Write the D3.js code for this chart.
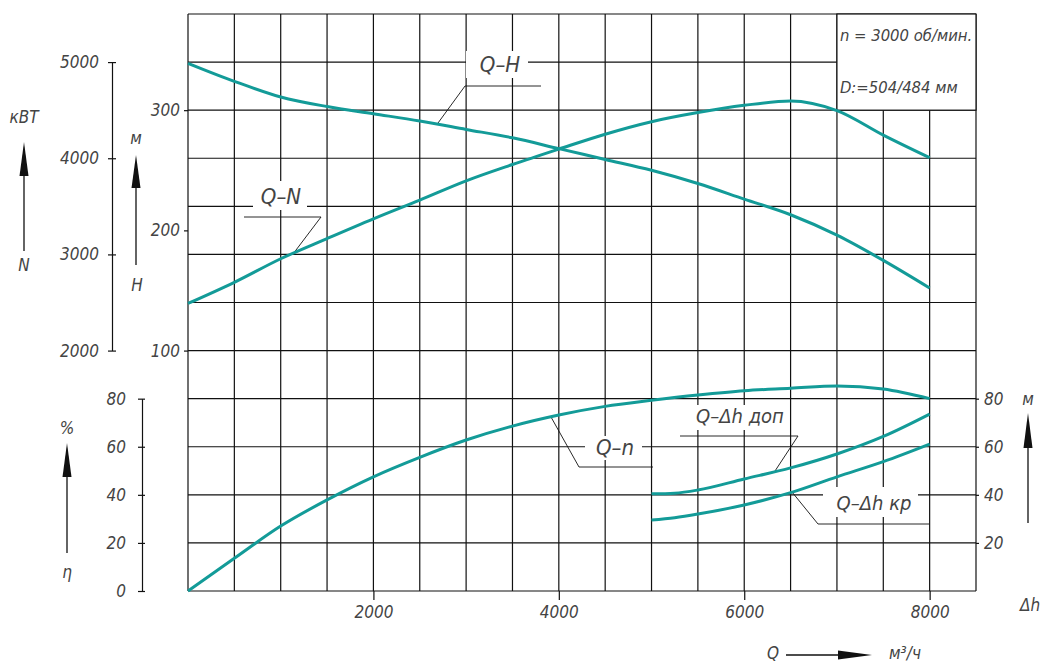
<html>
<head>
<meta charset="utf-8">
<style>
  body { margin: 0; background: #fff; }
  text { font-family: "DejaVu Sans Condensed", "DejaVu Sans", sans-serif; font-style: italic; fill: #444; }
</style>
</head>
<body>
<svg id="chart" width="1040" height="662"></svg>
<script src="https://cdn.jsdelivr.net/npm/d3@7/dist/d3.min.js"></script>
<script>
// flow Q, m3/h
const qMain = [0, 500, 1000, 1500, 2000, 2500, 3000, 3500, 4000, 4500, 5000, 5500, 6000, 6500, 7000, 7500, 8000]
const headH = [339, 324, 311, 303, 297, 291, 284, 277, 268, 259, 250, 239, 226, 213, 196, 175, 152]
const powerN = [2490, 2710, 2955, 3165, 3370, 3565, 3765, 3935, 4095, 4250, 4380, 4475, 4550, 4595, 4495, 4240, 4005]
const effEta = [0, 13.6, 27, 37.9, 47.5, 55.6, 62.8, 68.6, 73.2, 76.8, 79.3, 81.5, 83.3, 84.3, 85.3, 84.0, 80]

const qNpsh = [5000, 5250, 5500, 6000, 6500, 7000, 7500, 8000]
const dhDop = [40.4, 40.7, 42.0, 46.6, 51.2, 57.0, 64.3, 73.6]
const dhKr = [29.5, 30.5, 32.0, 35.8, 40.9, 47.5, 53.8, 61.1]

// tick labels
const qTicks = [2000, 4000, 6000, 8000]
const nTicks = [2000, 3000, 4000, 5000]
const hTicks = [100, 200, 300]
const etaTicks = [0, 20, 40, 60, 80]
const dhTicks = [20, 40, 60, 80]

const svg = d3.select("#chart")
const teal = "#139b98"
const fmt = d3.format("d")

let x = d3.scaleLinear().domain([0, 8500]).range([188, 976])
let row = d3.scaleLinear().domain([0, 12]).range([14, 591]) // grid rows
let yN = d3.scaleLinear().domain([2000, 5000]).range([row(7), row(1)])
let yH = d3.scaleLinear().domain([100, 300]).range([row(7), row(2)])
let yEta = d3.scaleLinear().domain([0, 80]).range([row(12), row(8)])
let yDh = d3.scaleLinear().domain([0, 80]).range([row(12), row(8)])

// grid
let grid = svg.append("g").attr("stroke", "#111").attr("stroke-width", 1.2)
grid.selectAll(".v").data(d3.range(0, 8501, 500)).enter().append("line")
    .attr("x1", d => x(d)).attr("x2", d => x(d))
    .attr("y1", row(0)).attr("y2", row(12))
grid.selectAll(".h").data(d3.range(0, 13)).enter().append("line")
    .attr("x1", x(0)).attr("x2", x(8500))
    .attr("y1", d => row(d)).attr("y2", d => row(d))

// info box top right
svg.append("rect").attr("x", x(7000)).attr("y", row(0))
    .attr("width", x(8500) - x(7000)).attr("height", row(2) - row(0))
    .attr("fill", "#fff").attr("stroke", "#111").attr("stroke-width", 1.2)
svg.append("text").attr("x", x(7000) + 3).attr("y", 41).attr("font-size", 16.5).text("n = 3000 об/мин.")
svg.append("text").attr("x", x(7000) + 3).attr("y", 93).attr("font-size", 16.5).text("D:=504/484 мм")

function styleAxis(g, size) {
    g.attr("font-size", null).attr("font-family", null)
    g.selectAll("text").attr("font-size", size).attr("fill", "#444")
    g.selectAll("line, path").attr("stroke", "#111").attr("stroke-width", 1.2)
}

// N axis
svg.append("g").attr("transform", "translate(112,0)")
    .call(d3.axisLeft(yN).tickValues(nTicks).tickFormat(fmt).tickSize(4).tickSizeOuter(0).tickPadding(9))
    .call(g => g.selectAll(".tick line").attr("x1", 4))
    .call(g => styleAxis(g, 17))
// H axis
svg.append("g").attr("transform", "translate(188,0)")
    .call(d3.axisLeft(yH).tickValues(hTicks).tickFormat(fmt).tickSize(4).tickSizeOuter(0).tickPadding(4))
    .call(g => g.select(".domain").remove())
    .call(g => styleAxis(g, 17))
// eta axis
svg.append("g").attr("transform", "translate(142,0)")
    .call(d3.axisLeft(yEta).tickValues(etaTicks).tickFormat(fmt).tickSize(4).tickSizeOuter(0).tickPadding(12))
    .call(g => g.selectAll(".tick line").attr("x1", 3))
    .call(g => styleAxis(g, 17))
// dh axis
svg.append("g").attr("transform", "translate(976,0)")
    .call(d3.axisRight(yDh).tickValues(dhTicks).tickFormat(fmt).tickSize(3).tickSizeOuter(0).tickPadding(5))
    .call(g => g.select(".domain").remove())
    .call(g => styleAxis(g, 17))
// Q axis
svg.append("g").attr("transform", "translate(0," + row(12) + ")")
    .call(d3.axisBottom(x).tickValues(qTicks).tickFormat(fmt).tickSize(9).tickSizeOuter(0).tickPadding(6))
    .call(g => g.select(".domain").remove())
    .call(g => styleAxis(g, 17))

// curve labels with white knockout
const labels = [
    { t: "Q–H", x: 500, y: 64, s: 22, box: [466, 51, 62, 27], line: [[438, 123], [465, 86], [541, 86]] },
    { t: "Q–N", x: 281, y: 196, s: 22, box: [253, 181, 54, 29], line: [[293, 254], [321, 217], [244, 217]] },
    { t: "Q–n", x: 615, y: 447, s: 22, box: [585, 436, 57, 24], line: [[551, 417], [579, 467], [653, 467]] },
    { t: "Q–Δh доп", x: 740, y: 416, s: 20, box: [690, 405, 96, 25], line: [[775, 471], [798, 436], [680, 436]] },
    { t: "Q–Δh кр", x: 874, y: 503, s: 20, box: [823, 487, 95, 30], line: [[792, 492], [818, 524], [929, 524]] }
]
svg.selectAll(".knock").data(labels).enter().append("rect")
    .attr("x", d => d.box[0]).attr("y", d => d.box[1])
    .attr("width", d => d.box[2]).attr("height", d => d.box[3]).attr("fill", "#fff")
svg.selectAll(".lbl").data(labels).enter().append("text")
    .attr("x", d => d.x).attr("y", d => d.y).attr("dy", "0.36em")
    .attr("text-anchor", "middle").attr("font-size", d => d.s).text(d => d.t)
svg.selectAll(".leader").data(labels).enter().append("path")
    .attr("d", d => d3.line()(d.line))
    .attr("fill", "none").attr("stroke", "#111").attr("stroke-width", 0.9)

// curves
let curve = d3.curveMonotoneX
function draw(xs, ys, sy) {
    let line = d3.line().curve(curve).x((d, i) => x(xs[i])).y(d => sy(d))
    svg.append("path").datum(ys).attr("d", line)
        .attr("fill", "none").attr("stroke", teal).attr("stroke-width", 3)
}
draw(qMain, headH, yH)
draw(qMain, powerN, yN)
draw(qMain, effEta, yEta)
draw(qNpsh, dhDop, yDh)
draw(qNpsh, dhKr, yDh)

// unit arrows
function arrowUp(cx, y0, tip, base) {
    svg.append("line").attr("x1", cx).attr("x2", cx).attr("y1", y0).attr("y2", base)
        .attr("stroke", "#111").attr("stroke-width", 1.3)
    svg.append("path").attr("d", `M${cx},${tip} L${cx + 4.5},${base} L${cx - 4.5},${base} Z`).attr("fill", "#111")
}
arrowUp(24, 251, 142, 176)
arrowUp(136, 265, 155, 188)
arrowUp(67, 553, 443, 477)
arrowUp(1028, 523, 413, 448)
svg.append("line").attr("x1", 786).attr("x2", 840).attr("y1", 655).attr("y2", 655).attr("stroke", "#111").attr("stroke-width", 1.3)
svg.append("path").attr("d", "M872,655 L838,650.5 L838,659.5 Z").attr("fill", "#111")

const unitText = [
    { t: "кВТ", x: 24, y: 117 }, { t: "N", x: 24, y: 265 },
    { t: "м", x: 136, y: 138 }, { t: "H", x: 137, y: 285 },
    { t: "%", x: 67, y: 428 }, { t: "η", x: 67, y: 572 },
    { t: "м", x: 1028, y: 399 }, { t: "Δh", x: 1030, y: 605 },
    { t: "Q", x: 773, y: 653 }, { t: "м³/ч", x: 905, y: 653 }
]
svg.selectAll(".unit").data(unitText).enter().append("text")
    .attr("x", d => d.x).attr("y", d => d.y).attr("dy", "0.36em")
    .attr("text-anchor", "middle").attr("font-size", 17).text(d => d.t)
</script>
</body>
</html>
